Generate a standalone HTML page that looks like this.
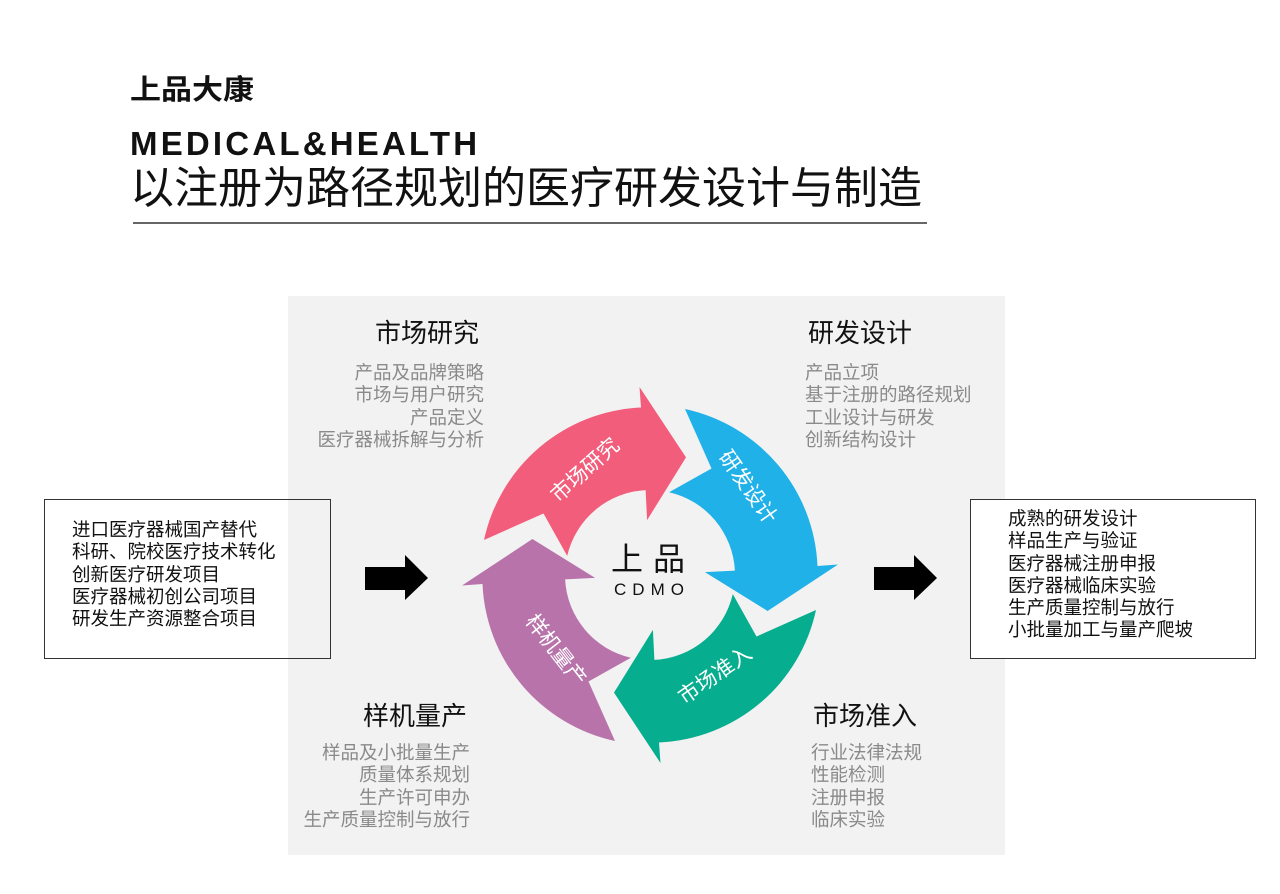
<!DOCTYPE html>
<html><head><meta charset="utf-8">
<style>
*{margin:0;padding:0;box-sizing:border-box}
body{width:1280px;height:894px;background:#fff;position:relative;overflow:hidden;font-family:"Liberation Sans","Noto Sans CJK SC",sans-serif;color:#111}
.a{position:absolute;white-space:nowrap}
.h{font-size:26px;line-height:30px;color:#111}
.g{font-size:18.5px;line-height:22.3px;color:#8a8a8a}
.k{font-size:18.5px;line-height:22.3px;color:#111}
.r{text-align:right}
</style></head><body>
<div class="a" style="left:130px;top:74px;font-size:31px;font-weight:bold;line-height:36px;transform:scaleY(0.9);transform-origin:top">上品大康</div>
<div class="a" style="left:130px;top:125px;font-size:33px;font-weight:900;line-height:38px;letter-spacing:3.2px">MEDICAL&amp;HEALTH</div>
<div class="a" style="left:130px;top:163px;font-size:44px;line-height:52px">以注册为路径规划的医疗研发设计与制造</div>
<div class="a" style="left:133px;top:222px;width:794px;height:2px;background:#666"></div>

<div class="a" style="left:288px;top:296px;width:717px;height:559px;background:#f2f2f2"></div>

<div class="a" style="left:44px;top:499px;width:287px;height:160px;border:1.5px solid #333"></div>
<div class="a" style="left:970px;top:499px;width:286px;height:160px;border:1.5px solid #333;background:#fff"></div>

<div class="a k" style="left:72px;top:519px">进口医疗器械国产替代<br>科研、院校医疗技术转化<br>创新医疗研发项目<br>医疗器械初创公司项目<br>研发生产资源整合项目</div>
<div class="a k" style="left:1008px;top:508px">成熟的研发设计<br>样品生产与验证<br>医疗器械注册申报<br>医疗器械临床实验<br>生产质量控制与放行<br>小批量加工与量产爬坡</div>

<div class="a h" style="left:375px;top:318px">市场研究</div>
<div class="a g r" style="right:796px;top:362px">产品及品牌策略<br>市场与用户研究<br>产品定义<br>医疗器械拆解与分析</div>
<div class="a h" style="left:808px;top:318px">研发设计</div>
<div class="a g" style="left:805px;top:362px">产品立项<br>基于注册的路径规划<br>工业设计与研发<br>创新结构设计</div>
<div class="a h" style="left:363px;top:701px">样机量产</div>
<div class="a g r" style="right:810px;top:742px">样品及小批量生产<br>质量体系规划<br>生产许可申办<br>生产质量控制与放行</div>
<div class="a h" style="left:813px;top:701px">市场准入</div>
<div class="a g" style="left:811px;top:742px">行业法律法规<br>性能检测<br>注册申报<br>临床实验</div>

<svg class="a" style="left:0;top:0" width="1280" height="894">
<polygon points="365,567 405,567 405,555 428,578 405,600 405,590 365,590" fill="#000"/>
<polygon points="874,567 914,567 914,555 937,578 914,600 914,590 874,590" fill="#000"/>
<defs>
<path id="ar" d="M484,540 A168,168 0 0 1 641,407.5 L639.5,387 L686,457.4 L647.1,520.1 L645.6,490.1 A85,85 0 0 0 567.2,555.9 L543.5,513.5 Z"/>
</defs>
<use href="#ar" fill="#f15d7a"/>
<use href="#ar" fill="#20b1e8" transform="rotate(90 650 575)"/>
<use href="#ar" fill="#06ad8e" transform="rotate(180 650 575)"/>
<use href="#ar" fill="#b873ab" transform="rotate(270 650 575)"/>
<g font-family="Liberation Sans, Noto Sans CJK SC, sans-serif" font-size="21" fill="#fff" text-anchor="middle">
<text x="585" y="477" transform="rotate(-42 585 470)">市场研究</text>
<text x="748" y="494" transform="rotate(55 748 487)">研发设计</text>
<text x="715" y="682" transform="rotate(-35 715 675)">市场准入</text>
<text x="556" y="657" transform="rotate(52 556 650)">样机量产</text>
</g>
<text x="653" y="570" font-family="Liberation Sans, Noto Sans CJK SC, sans-serif" font-size="32" text-anchor="middle" fill="#111" letter-spacing="10">上品</text>
<text x="652" y="595" font-family="Liberation Sans, sans-serif" font-size="17" text-anchor="middle" fill="#111" letter-spacing="6">CDMO</text>
</svg>
</body></html>
